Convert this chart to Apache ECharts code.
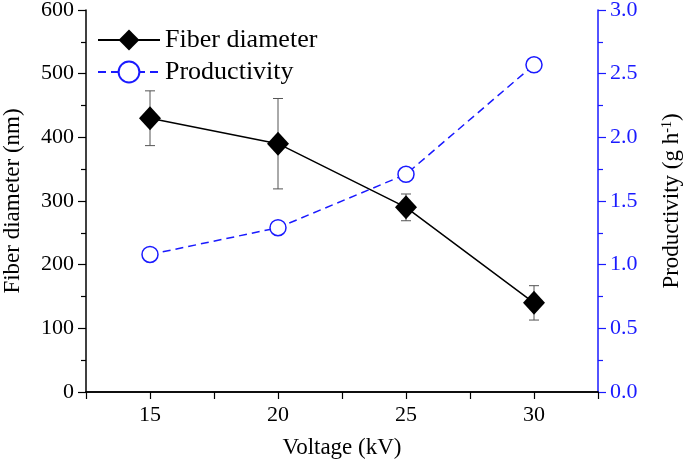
<!DOCTYPE html>
<html>
<head>
<meta charset="utf-8">
<script src="https://cdn.jsdelivr.net/npm/echarts@6/dist/echarts.min.js"></script>
<style>
html,body{margin:0;padding:0;background:#fff;}
#main{width:685px;height:461px;}
</style>
</head>
<body>
<div id="main"></div>
<script>
var voltage = [15, 20, 25, 30];
var fiberDiameter = [430, 390, 290, 140];
var fiberError = [43, 71, 21, 27];
var productivity = [1.08, 1.29, 1.71, 2.57];
var xTickLabels = ['15', '20', '25', '30'];

var FONT = 'Liberation Serif';
var BLUE = '#1a1aff';

var fiberData = voltage.map(function (v, i) { return [v, fiberDiameter[i]]; });
var prodData = voltage.map(function (v, i) { return [v, productivity[i]]; });
var errData = voltage.map(function (v, i) {
  return [v, fiberDiameter[i] - fiberError[i], fiberDiameter[i] + fiberError[i]];
});

var chart = echarts.init(document.getElementById('main'));
chart.setOption({
  animation: false,
  backgroundColor: '#fff',
  grid: { left: 86, right: 87, top: 10, bottom: 69, containLabel: false, outerBoundsMode: 'none' },
  legend: {
    orient: 'vertical',
    left: 92,
    top: 22,
    itemWidth: 62,
    itemHeight: 26,
    itemGap: 6,
    textStyle: { fontFamily: FONT, fontSize: 26, color: '#000' },
    data: ['Fiber diameter', 'Productivity']
  },
  xAxis: [{
    type: 'value',
    min: 12.5, max: 32.5, interval: 2.5,
    name: 'Voltage (kV)',
    nameLocation: 'middle',
    nameGap: 44,
    nameTextStyle: { fontFamily: FONT, fontSize: 23, color: '#000' },
    axisLine: { lineStyle: { color: '#000', width: 1.5 } },
    axisTick: { inside: false, length: 7, lineStyle: { color: '#000', width: 1.2 } },
    axisLabel: {
      fontFamily: FONT, fontSize: 22, color: '#000', margin: 12,
      formatter: function (v) {
        var s = String(v);
        return xTickLabels.indexOf(s) >= 0 ? s : '';
      }
    },
    splitLine: { show: false }
  }, {
    type: 'value',
    position: 'top',
    min: 12.5, max: 32.5,
    axisLine: { show: true, lineStyle: { color: '#000', width: 1.5 } },
    axisTick: { show: false },
    axisLabel: { show: false },
    splitLine: { show: false }
  }],
  yAxis: [{
    type: 'value',
    min: 0, max: 600, interval: 100,
    name: 'Fiber diameter (nm)',
    nameLocation: 'middle',
    nameGap: 62,
    nameRotate: 90,
    nameTextStyle: { fontFamily: FONT, fontSize: 23, color: '#000' },
    axisLine: { show: true, lineStyle: { color: '#000', width: 1.5 } },
    axisTick: { show: true, length: 8, lineStyle: { color: '#000', width: 1.2 } },
    minorTick: { show: true, splitNumber: 2, length: 5, lineStyle: { color: '#000', width: 1.2 } },
    axisLabel: { fontFamily: FONT, fontSize: 22, color: '#000', margin: 12 },
    splitLine: { show: false }
  }, {
    type: 'value',
    position: 'right',
    min: 0, max: 3, interval: 0.5,
    name: '{a|Productivity (g h}{s|-1}{a|)}',
    nameLocation: 'middle',
    nameGap: 62,
    nameRotate: 90,
    nameTextStyle: {
      fontFamily: FONT, fontSize: 23, color: '#000',
      rich: {
        a: { fontFamily: FONT, fontSize: 23, color: '#000' },
        s: { fontFamily: FONT, fontSize: 14, color: '#000', verticalAlign: 'top', padding: [0, 0, 10, 0] }
      }
    },
    axisLine: { show: true, lineStyle: { color: BLUE, width: 1.5 } },
    axisTick: { show: true, length: 8, lineStyle: { color: BLUE, width: 1.2 } },
    minorTick: { show: true, splitNumber: 2, length: 5, lineStyle: { color: BLUE, width: 1.2 } },
    axisLabel: {
      fontFamily: FONT, fontSize: 22, color: BLUE, margin: 12,
      formatter: function (v) { return v.toFixed(1); }
    },
    splitLine: { show: false }
  }],
  series: [{
    name: 'errors',
    type: 'custom',
    xAxisIndex: 0,
    yAxisIndex: 0,
    z: 1,
    data: errData,
    renderItem: function (params, api) {
      var x = api.value(0);
      var lo = api.coord([x, api.value(1)]);
      var hi = api.coord([x, api.value(2)]);
      var cw = 5;
      var st = { stroke: '#555', lineWidth: 1 };
      return {
        type: 'group',
        children: [
          { type: 'line', shape: { x1: lo[0], y1: lo[1], x2: hi[0], y2: hi[1] }, style: st },
          { type: 'line', shape: { x1: lo[0] - cw, y1: lo[1], x2: lo[0] + cw, y2: lo[1] }, style: st },
          { type: 'line', shape: { x1: hi[0] - cw, y1: hi[1], x2: hi[0] + cw, y2: hi[1] }, style: st }
        ]
      };
    }
  }, {
    name: 'Fiber diameter',
    type: 'line',
    xAxisIndex: 0,
    yAxisIndex: 0,
    z: 3,
    data: fiberData,
    symbol: 'diamond',
    symbolSize: [22, 24],
    lineStyle: { color: '#000', width: 1.5 },
    itemStyle: { color: '#000' }
  }, {
    name: 'Productivity',
    type: 'line',
    xAxisIndex: 0,
    yAxisIndex: 1,
    z: 2,
    data: prodData,
    symbol: 'circle',
    symbolSize: 16,
    lineStyle: { color: BLUE, width: 1.5, type: [8, 5] },
    itemStyle: { color: '#fff', borderColor: BLUE, borderWidth: 1.5 }
  }]
});
</script>
</body>
</html>
